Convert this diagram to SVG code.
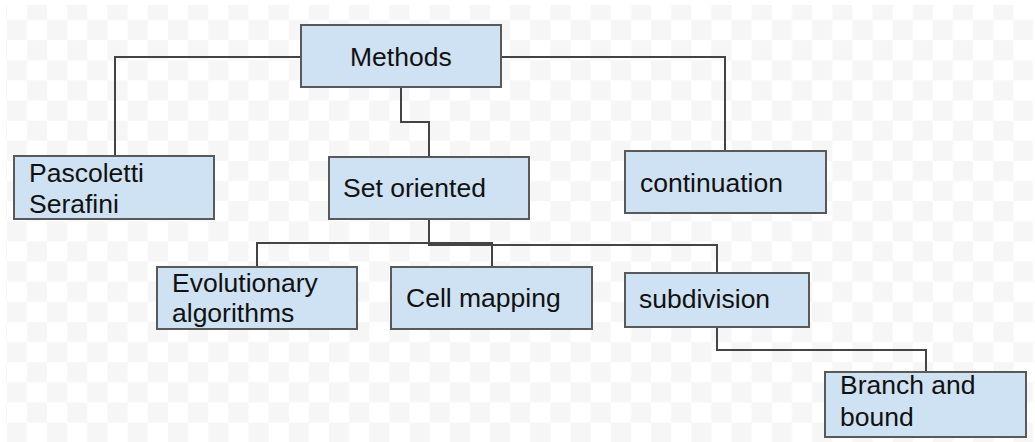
<svg xmlns="http://www.w3.org/2000/svg" width="1035" height="442" viewBox="0 0 1035 442">
<style>
.box{fill:#cfe2f3;stroke:#595959;stroke-width:2}
.lbl{font-family:"Liberation Sans",Arial,sans-serif;font-size:26.5px;fill:#111}
.conn{fill:none;stroke:#444;stroke-width:2}
</style>
<defs>
<pattern id="chk" patternUnits="userSpaceOnUse" x="6.9" y="-0.13" width="40.26" height="40.26">
<rect x="0" y="0" width="40.26" height="40.26" fill="#ffffff"/>
<rect x="20.13" y="0" width="20.13" height="20.13" fill="#f6f6f6"/>
<rect x="0" y="20.13" width="20.13" height="20.13" fill="#f6f6f6"/>
</pattern>
</defs>
<rect width="1035" height="442" fill="#ffffff"/>
<rect x="6" y="5" width="1027" height="437" fill="url(#chk)"/>
<g id="connectors">
<path class="conn" d="M301,57 H115 V156"/>
<path class="conn" d="M501,57 H725 V151"/>
<path class="conn" d="M401,87 V122 H429 V157"/>
<path class="conn" d="M429,219 V243 H257 V267"/>
<path class="conn" d="M429,243 H492 V267"/>
<path class="conn" d="M429,219 V245 H717 V273"/>
<path class="conn" d="M717,327 V350 H926 V372"/>
</g>
<g id="methods"><rect class="box" x="301" y="25" width="200" height="62"/><text class="lbl" x="350" y="66">Methods</text></g>
<g id="pascoletti"><rect class="box" x="14" y="156" width="200" height="63"/><text class="lbl" x="29" y="182">Pascoletti</text><text class="lbl" x="29" y="213">Serafini</text></g>
<g id="setoriented"><rect class="box" x="329" y="157" width="200" height="62"/><text class="lbl" x="343" y="197">Set oriented</text></g>
<g id="continuation"><rect class="box" x="625" y="151" width="201" height="62"/><text class="lbl" x="640" y="192">continuation</text></g>
<g id="evolutionary"><rect class="box" x="157" y="267" width="200" height="62"/><text class="lbl" x="172" y="292">Evolutionary</text><text class="lbl" x="172" y="322">algorithms</text></g>
<g id="cellmapping"><rect class="box" x="391" y="267" width="201" height="62"/><text class="lbl" x="406" y="307">Cell mapping</text></g>
<g id="subdivision"><rect class="box" x="625" y="273" width="184" height="54"/><text class="lbl" x="639" y="308">subdivision</text></g>
<g id="branch"><rect class="box" x="825" y="372" width="201" height="65"/><text class="lbl" x="840" y="394">Branch and</text><text class="lbl" x="840" y="426">bound</text></g>
</svg>
